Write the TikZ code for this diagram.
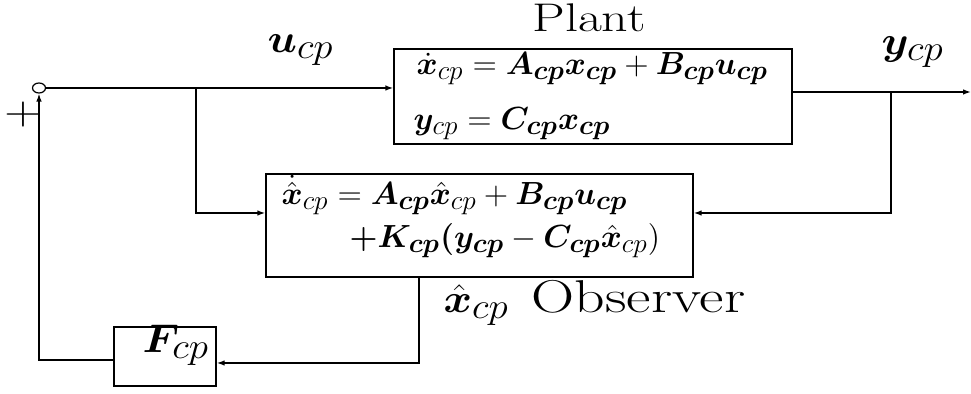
\RequirePackage{fix-cm}
\documentclass[tikz,border=0pt]{standalone}
\usepackage{amsmath,bm,graphicx}
\usetikzlibrary{arrows.meta,fit,shapes.geometric}
\DeclareMathSizes{16}{16}{13.6}{10}
\DeclareMathSizes{20}{20}{18}{14}
\newcommand\sx[2][1.08]{\scalebox{#1}[1]{#2}}
\newcommand\mfont{\fontsize{16}{19}\selectfont}
\newcommand\lfont{\fontsize{20}{24}\selectfont}
\newcommand\pfont{\fontsize{20}{24}\selectfont}
\newcommand\ofont{\fontsize{23}{27}\selectfont}
\begin{document}
\begin{tikzpicture}[x=0.5pt,y=-0.5pt,line width=0.7pt,
  >={Latex[length=4pt,width=2.8pt]},
  box/.style={draw,inner sep=0pt},
  txt/.style={inner sep=0pt,anchor=base west}]
\useasboundingbox (0,0) rectangle (971,394);
% boxes
\node[box,fit={(394,49) (792,144)}] (plant) {};
\node[box,fit={(266,174) (693,277)}] (obs) {};
\node[box,fit={(114,327) (216,386)}] (F) {};
\node[draw,ellipse,inner sep=0pt,minimum width=6.5pt,minimum height=5pt,line width=0.6pt] (sum) at (39,88) {};
% texts
\node[txt,font=\mfont] (p1) at (416,75) {\sx[1.0]{$\dot{\bm x}_{cp} = \bm{A_{cp}x_{cp}} + \bm{B_{cp}u_{cp}}$}};
\node[txt,font=\mfont] (p2) at (413,130) {\sx[1.0]{$\bm y_{cp} = \bm{C_{cp}x_{cp}}$}};
\node[txt,font=\mfont] (o1) at (281,205) {\sx[1.0]{$\dot{\hat{\bm x}}_{cp} = \bm{A_{cp}}\hat{\bm x}_{cp} + \bm{B_{cp}u_{cp}}$}};
\node[txt,font=\mfont] (o2) at (349,248) {\sx[1.0]{$\bm{+K_{cp}(y_{cp}} - \bm{C_{cp}}\hat{\bm x}_{cp})$}};
\node[txt,font=\lfont] (fl) at (142,353) {\sx{$\bm F_{cp}$}};
\node[anchor=base,inner sep=0pt,font=\pfont] (plantlbl) at (589,32) {\sx[1.3]{Plant}};
\node[txt,font=\lfont] (xhat) at (443,313) {\sx{$\hat{\bm x}_{cp}$}};
\node[txt,font=\ofont] (obslbl) at (531,313) {\sx[1.3]{Observer}};
\node[txt,font=\lfont] (ulbl) at (267,53) {\sx{$\bm u_{cp}$}};
\node[txt,font=\lfont] (ylbl) at (881,55) {\sx{$\bm y_{cp}$}};
\node[inner sep=0pt,font=\lfont] (plus) at (23,115) {\sx[1.3]{$+$}};
% connectors
\coordinate (b1) at (196,88);
\coordinate (b2) at (891,92);
\coordinate (out) at (971,92);
\draw[->] (sum.east) -- (plant.west |- sum.east);
\draw[->] (b1) |- (obs.west |- 0,213);
\draw[->] (plant.east |- out) -- (out);
\draw[->] (b2) |- (obs.east |- 0,213);
\draw[->] (obs.south -| 419,0) |- (F.east |- 0,363);
\draw[->] (F.west |- 0,360) -| (sum.south);
\end{tikzpicture}
\end{document}
